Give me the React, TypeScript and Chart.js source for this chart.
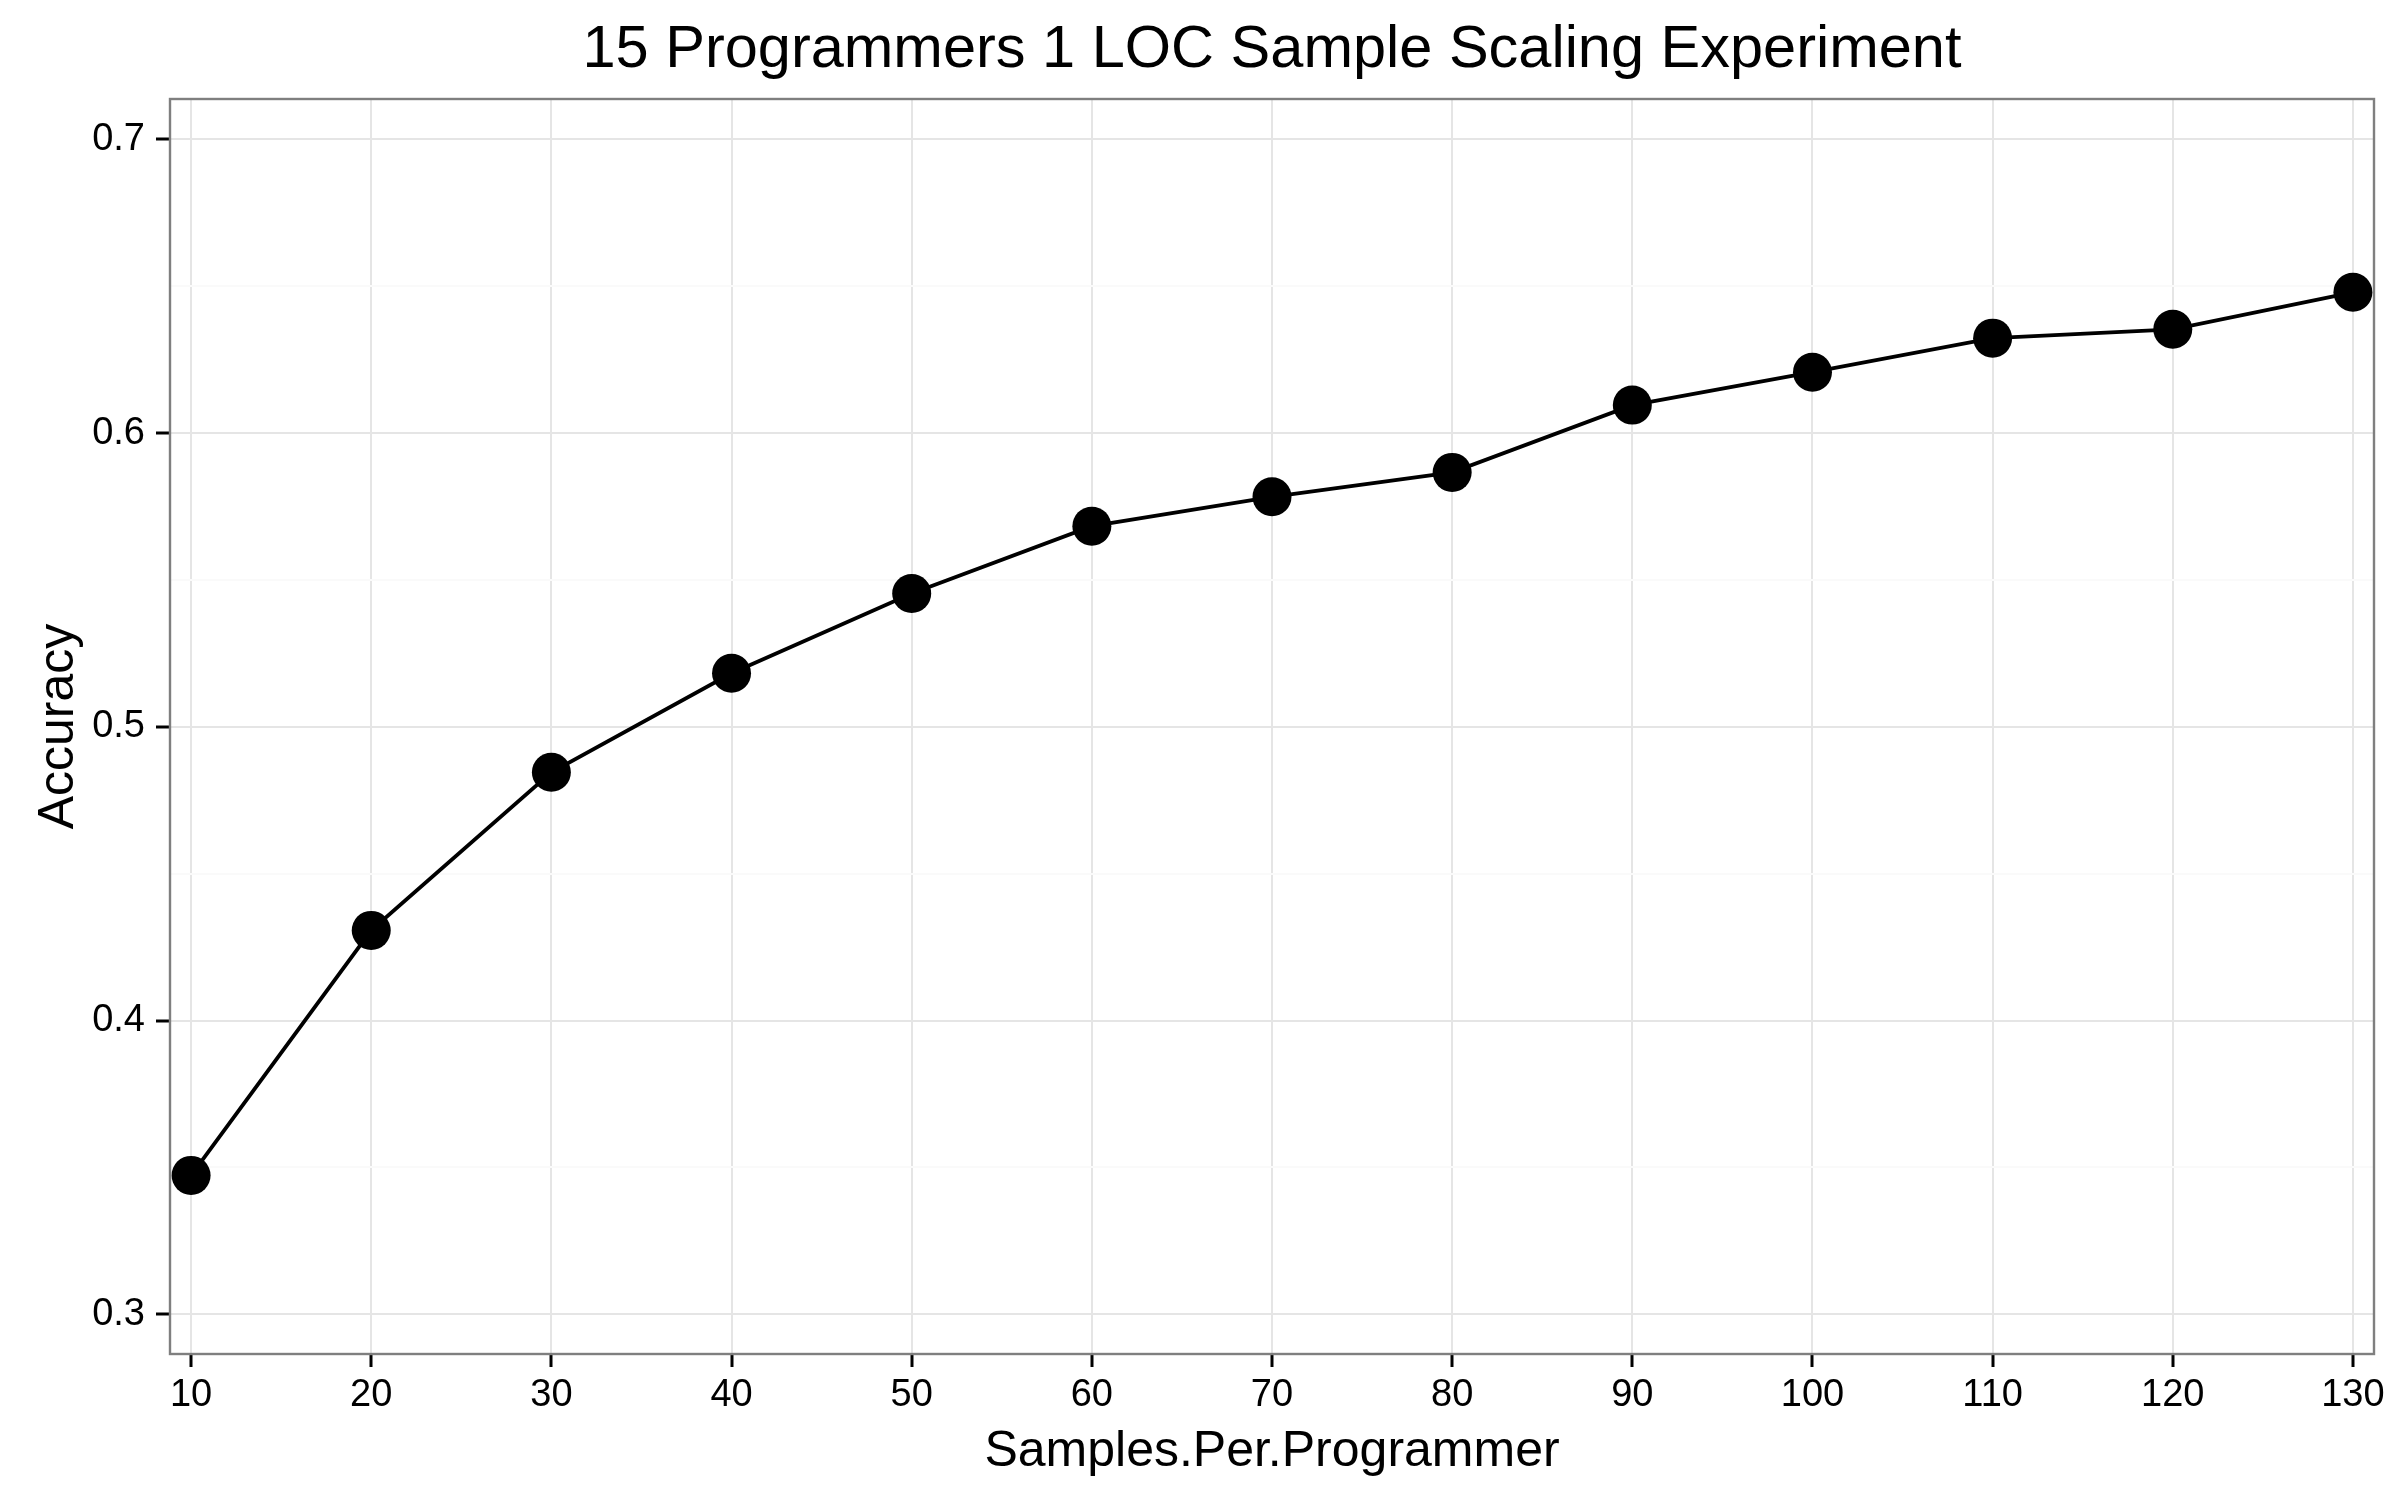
import React, { useEffect, useRef } from "react";
import { Chart, registerables } from "chart.js";

Chart.register(...registerables);

// ---- data ----
const samplesPerProgrammer = [10, 20, 30, 40, 50, 60, 70, 80, 90, 100, 110, 120, 130];
const accuracy = [0.3473, 0.4307, 0.4845, 0.5182, 0.5454, 0.5683, 0.5783, 0.5866, 0.6095, 0.6207, 0.6323, 0.6353, 0.6479];
const xTickValues = [10, 20, 30, 40, 50, 60, 70, 80, 90, 100, 110, 120, 130];
const yMajorTicks = [0.3, 0.4, 0.5, 0.6, 0.7];
const yMinorTicks = [0.35, 0.45, 0.55, 0.65];

const chartTitle = "15 Programmers 1 LOC Sample Scaling Experiment";
const xTitle = "Samples.Per.Programmer";
const yTitle = "Accuracy";

const FONT = "'Liberation Sans', Arial, Helvetica, sans-serif";

const isMajor = (v: number) => yMajorTicks.some((m) => Math.abs(m - v) < 1e-9);

const panelBorder = {
  id: "panelBorder",
  afterDatasetsDraw(chart: any) {
    const { ctx, chartArea } = chart;
    const { left, top, right, bottom } = chartArea;
    ctx.save();
    ctx.strokeStyle = "#7f7f7f";
    ctx.lineWidth = 2.4;
    ctx.strokeRect(left, top, right - left, bottom - top);
    ctx.restore();
  },
};

export default function App() {
  const ref = useRef<HTMLCanvasElement | null>(null);

  useEffect(() => {
    document.body.style.margin = "0";
    const canvas = ref.current;
    if (!canvas) return;
    const points = samplesPerProgrammer.map((x, i) => ({ x, y: accuracy[i] }));
    const yAll = [...yMajorTicks, ...yMinorTicks].sort((a, b) => a - b);

    const chart = new Chart(canvas, {
      type: "line",
      data: {
        datasets: [
          {
            data: points,
            borderColor: "#000000",
            backgroundColor: "#000000",
            borderWidth: 3.8,
            pointRadius: 19.5,
            pointBorderWidth: 0,
            pointBackgroundColor: "#000000",
            tension: 0,
            fill: false,
            clip: false as any,
          },
        ],
      },
      options: {
        animation: false,
        responsive: false,
        devicePixelRatio: 1,
        layout: { padding: { left: 0, right: 26, top: 0, bottom: 0 } },
        plugins: {
          legend: { display: false },
          tooltip: { enabled: false },
          title: {
            display: true,
            text: chartTitle,
            color: "#000000",
            font: { family: FONT, size: 59.5, weight: "normal" },
            padding: { top: 15, bottom: 12.6 },
            fullSize: false,
          },
        },
        scales: {
          x: {
            type: "linear",
            min: 8.83,
            max: 131.17,
            afterBuildTicks: (s: any) => {
              s.ticks = xTickValues.map((v) => ({ value: v }));
            },
            afterFit: (s: any) => {
              s.height = 146;
            },
            border: { display: false },
            grid: {
              color: "#e5e5e5",
              lineWidth: 2,
              tickColor: "#000000",
              tickWidth: 3,
              tickLength: 13,
            },
            ticks: {
              color: "#000000",
              font: { family: FONT, size: 38 },
              padding: 6,
              autoSkip: false,
              maxRotation: 0,
              callback: (v: any) => String(v),
            },
            title: {
              display: true,
              text: xTitle,
              color: "#000000",
              font: { family: FONT, size: 50 },
              padding: { top: 0, bottom: 18 },
            },
          },
          y: {
            type: "linear",
            min: 0.2865,
            max: 0.7137,
            afterBuildTicks: (s: any) => {
              s.ticks = yAll.map((v) => ({ value: v }));
            },
            afterFit: (s: any) => {
              s.width = 170;
            },
            border: { display: false },
            grid: {
              color: (c: any) => (c.tick && isMajor(c.tick.value) ? "#e5e5e5" : "#fafafa"),
              lineWidth: 2,
              tickColor: (c: any) => (c.tick && isMajor(c.tick.value) ? "#000000" : "rgba(0,0,0,0)"),
              tickWidth: 3,
              tickLength: 14,
            },
            ticks: {
              color: "#000000",
              font: { family: FONT, size: 38 },
              padding: 11,
              autoSkip: false,
              callback: (v: any) => (isMajor(Number(v)) ? Number(v).toFixed(1) : ""),
            },
            title: {
              display: true,
              text: yTitle,
              color: "#000000",
              font: { family: FONT, size: 50 },
              padding: { top: 29, bottom: 0 },
            },
          },
        },
      },
      plugins: [panelBorder],
    } as any);

    return () => chart.destroy();
  }, []);

  return (
    <div style={{ width: 2400, height: 1500, background: "#ffffff" }}>
      <canvas ref={ref} width={2400} height={1500} style={{ display: "block", width: 2400, height: 1500 }} />
    </div>
  );
}
